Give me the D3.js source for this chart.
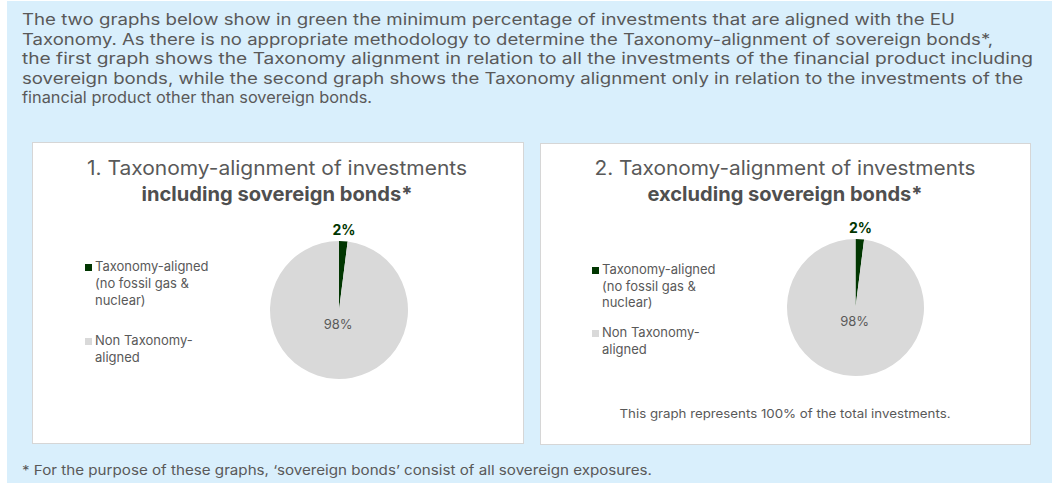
<!DOCTYPE html>
<html>
<head>
<meta charset="utf-8">
<script src="https://cdn.jsdelivr.net/npm/d3@7"></script>
<style>
  html, body { margin: 0; padding: 0; background: #fff; }
  svg { display: block; font-family: Inter, "Open Sans", sans-serif; }
</style>
</head>
<body>
<svg width="1052" height="483"></svg>
<script>
  // data
  const introLines = [
    "The two graphs below show in green the minimum percentage of investments that are aligned with the EU",
    "Taxonomy. As there is no appropriate methodology to determine the Taxonomy-alignment of sovereign bonds*,",
    "the first graph shows the Taxonomy alignment in relation to all the investments of the financial product including",
    "sovereign bonds, while the second graph shows the Taxonomy alignment only in relation to the investments of the",
    "financial product other than sovereign bonds."
  ];
  const categories = ["Taxonomy-aligned (no fossil gas & nuclear)", "Non Taxonomy-aligned"];
  const legendLines = [["Taxonomy-aligned", "(no fossil gas &", "nuclear)"], ["Non Taxonomy-", "aligned"]];
  const includingValues = [2, 98];
  const excludingValues = [2, 98];
  const titleLines = [
    ["1. Taxonomy-alignment of investments", "including sovereign bonds*"],
    ["2. Taxonomy-alignment of investments", "excluding sovereign bonds*"]
  ];
  const noteText = "This graph represents 100% of the total investments.";
  const footText = "* For the purpose of these graphs, \u2018sovereign bonds\u2019 consist of all sovereign exposures.";

  const colors = d3.scaleOrdinal().domain(categories).range(["#013601", "#d9d9d9"]);
  const textGray = "#595959";

  const svg = d3.select("svg");

  // 배경
  svg.append("rect").attr("x", 7).attr("y", 1).attr("width", 1045).attr("height", 482).attr("fill", "#d9effc");

  // intro paragraph
  const introWidths = [933, 971, 1011, 1001, 350];
  svg.append("g").selectAll("text")
    .data(introLines)
    .join("text")
    .attr("x", 22)
    .attr("y", (d, i) => 25 + i * 19.5)
    .attr("textLength", (d, i) => introWidths[i])
    .attr("lengthAdjust", "spacingAndGlyphs")
    .style("font-size", "15.5px")
    .style("fill", textGray)
    .text(d => d);

  // panels
  const panels = [
    { x: 32, y: 142, w: 491, h: 301, cx: 307, cy: 168, r: 69, titleY: 33, titleW: [380, 271], legX: 53, legY: [129, 146, 163, 203, 220], values: includingValues },
    { x: 540, y: 143, w: 490, h: 301, cx: 315.5, cy: 164.5, r: 68.5, titleY: 32, titleW: [381, 275], legX: 52, legY: [131, 148, 164, 194, 211], values: excludingValues, note: true }
  ];

  const pie = d3.pie().sort(null).value(d => d.value);

  panels.forEach((p, pi) => {
    const g = svg.append("g").attr("transform", `translate(${p.x},${p.y})`);

    g.append("rect")
      .attr("x", 0.5).attr("y", 0.5)
      .attr("width", p.w).attr("height", p.h)
      .attr("fill", "#fff")
      .attr("stroke", "#d6d6d6");

    // title
    g.append("text")
      .attr("x", 245).attr("y", p.titleY)
      .attr("text-anchor", "middle")
      .attr("textLength", p.titleW[0])
      .attr("lengthAdjust", "spacingAndGlyphs")
      .style("font-size", "20px")
      .style("fill", textGray)
      .text(titleLines[pi][0]);
    g.append("text")
      .attr("x", 245).attr("y", p.titleY + 26)
      .attr("text-anchor", "middle")
      .attr("textLength", p.titleW[1])
      .attr("lengthAdjust", "spacingAndGlyphs")
      .style("font-size", "20px")
      .style("font-weight", "bold")
      .style("fill", "#4f4f4f")
      .text(titleLines[pi][1]);

    // legend
    let k = 0;
    categories.forEach((c, ci) => {
      const y0 = p.legY[k];
      g.append("rect")
        .attr("x", p.legX).attr("y", y0 - 7)
        .attr("width", 7).attr("height", 7)
        .attr("fill", colors(c));
      legendLines[ci].forEach(line => {
        g.append("text")
          .attr("x", p.legX + 10)
          .attr("y", p.legY[k])
          .style("font-size", "13px")
          .style("fill", textGray)
          .text(line);
        k++;
      });
    });

    // pie
    const data = pie(categories.map((c, i) => ({ key: c, value: p.values[i] })));
    const arc = d3.arc().innerRadius(0).outerRadius(p.r);
    const outerLabel = d3.arc().innerRadius(p.r + 11).outerRadius(p.r + 11);
    const innerLabel = d3.arc().innerRadius(14).outerRadius(14);

    const pg = g.append("g").attr("transform", `translate(${p.cx},${p.cy})`);
    pg.selectAll("path")
      .data(data)
      .join("path")
      .attr("d", arc)
      .attr("fill", d => colors(d.data.key));

    pg.selectAll("text")
      .data(data)
      .join("text")
      .attr("transform", (d, i) => `translate(${(i === 0 ? outerLabel : innerLabel).centroid(d)})`)
      .attr("dy", "0.35em")
      .attr("text-anchor", "middle")
      .style("font-size", (d, i) => i === 0 ? "14px" : "13px")
      .style("font-weight", (d, i) => i === 0 ? "bold" : "normal")
      .style("fill", (d, i) => i === 0 ? colors(d.data.key) : textGray)
      .text(d => d3.format(".0f")(d.data.value) + "%");

    if (p.note) {
      g.append("text")
        .attr("x", 245).attr("y", 275)
        .attr("text-anchor", "middle")
        .attr("textLength", 331)
        .attr("lengthAdjust", "spacingAndGlyphs")
        .style("font-size", "12px")
        .style("fill", textGray)
        .text(noteText);
    }
  });

  // footnote
  svg.append("text")
    .attr("x", 22).attr("y", 475)
    .attr("textLength", 630)
    .attr("lengthAdjust", "spacingAndGlyphs")
    .style("font-size", "13.5px")
    .style("fill", textGray)
    .text(footText);
</script>
</body>
</html>
